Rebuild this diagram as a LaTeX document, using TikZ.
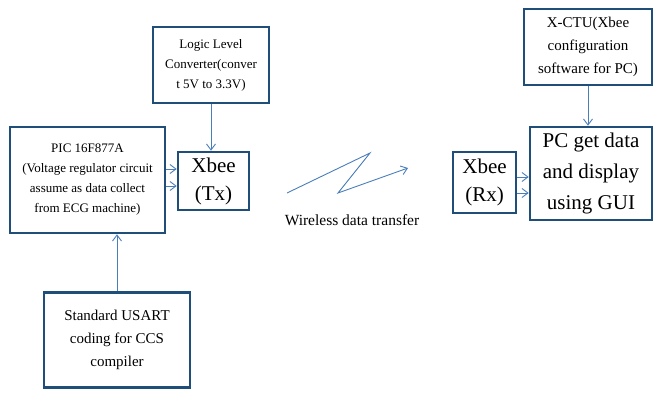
\documentclass[tikz,border=0pt]{standalone}
\usepackage{fontspec}
\setmainfont{Liberation Serif}
\usetikzlibrary{arrows.meta}
\definecolor{boxblue}{HTML}{1F4E79}
\definecolor{arrblue}{HTML}{4A7EBB}
\tikzset{
  blk/.style={draw=boxblue, line width=2.6pt, fill=white, inner sep=0pt, align=center, text=black},
  arr/.style={draw=arrblue, line width=0.9pt, -{Straight Barb[length=6pt,width=9pt]}},
  small/.style={font=\fontsize{13}{20}\selectfont},
  mid/.style={font=\fontsize{15}{23}\selectfont},
  big/.style={font=\fontsize{21}{28}\selectfont},
}
\begin{document}
\begin{tikzpicture}[x=1pt,y=-1pt]
\useasboundingbox[fill=white] (0,0) rectangle (669,398);
\node[blk, small, minimum width=116pt, minimum height=76pt] (llc) at (211,65) {Logic Level\\Converter(conver\\t 5V to 3.3V)};
\node[blk, small, minimum width=155pt, minimum height=106pt] (pic) at (87.5,180) {PIC 16F877A\\(Voltage regulator circuit\\assume as data collect\\from ECG machine)};
\node[blk, big, minimum width=71pt, minimum height=58pt] (tx) at (213.5,181) {Xbee\\(Tx)};
\node[blk, mid, minimum width=146pt, minimum height=95pt] (usart) at (117,340) {Standard USART\\coding for CCS\\compiler};
\node[blk, mid, minimum width=128pt, minimum height=76pt] (xctu) at (588,47) {X-CTU(Xbee\\configuration\\software for PC)};
\node[blk, font=\fontsize{21}{31}\selectfont, minimum width=122pt, minimum height=93pt] (pc) at (591,173.5) {PC get data\\and display\\using GUI};
\node[blk, big, minimum width=63pt, minimum height=61pt] (rx) at (484.5,182.5) {Xbee\\(Rx)};
\node[font=\fontsize{15.5}{18}\selectfont] (wl) at (352,220) {Wireless data transfer};

\draw[arr] (llc.south) -- (llc.south |- tx.north);
\draw[arr] ([yshift=11pt]pic.east) -- ([yshift=11pt]pic.east -| tx.west);
\draw[arr] ([yshift=-6pt]pic.east) -- ([yshift=-6pt]pic.east -| tx.west);
\draw[arr] (usart.north) -- (usart.north |- pic.south);
\draw[arr] (xctu.south) -- (xctu.south |- pc.north);
\draw[arr] ([yshift=5.5pt]rx.east) -- ([yshift=5.5pt]rx.east -| pc.west);
\draw[arr] ([yshift=-10.5pt]rx.east) -- ([yshift=-10.5pt]rx.east -| pc.west);

\coordinate (l1) at (287,193);
\coordinate (l2) at (370,153);
\coordinate (l3) at (338,193);
\coordinate (l4) at (408,168);
\draw[arr] (l1) -- (l2) -- (l3) -- (l4);
\end{tikzpicture}
\end{document}
